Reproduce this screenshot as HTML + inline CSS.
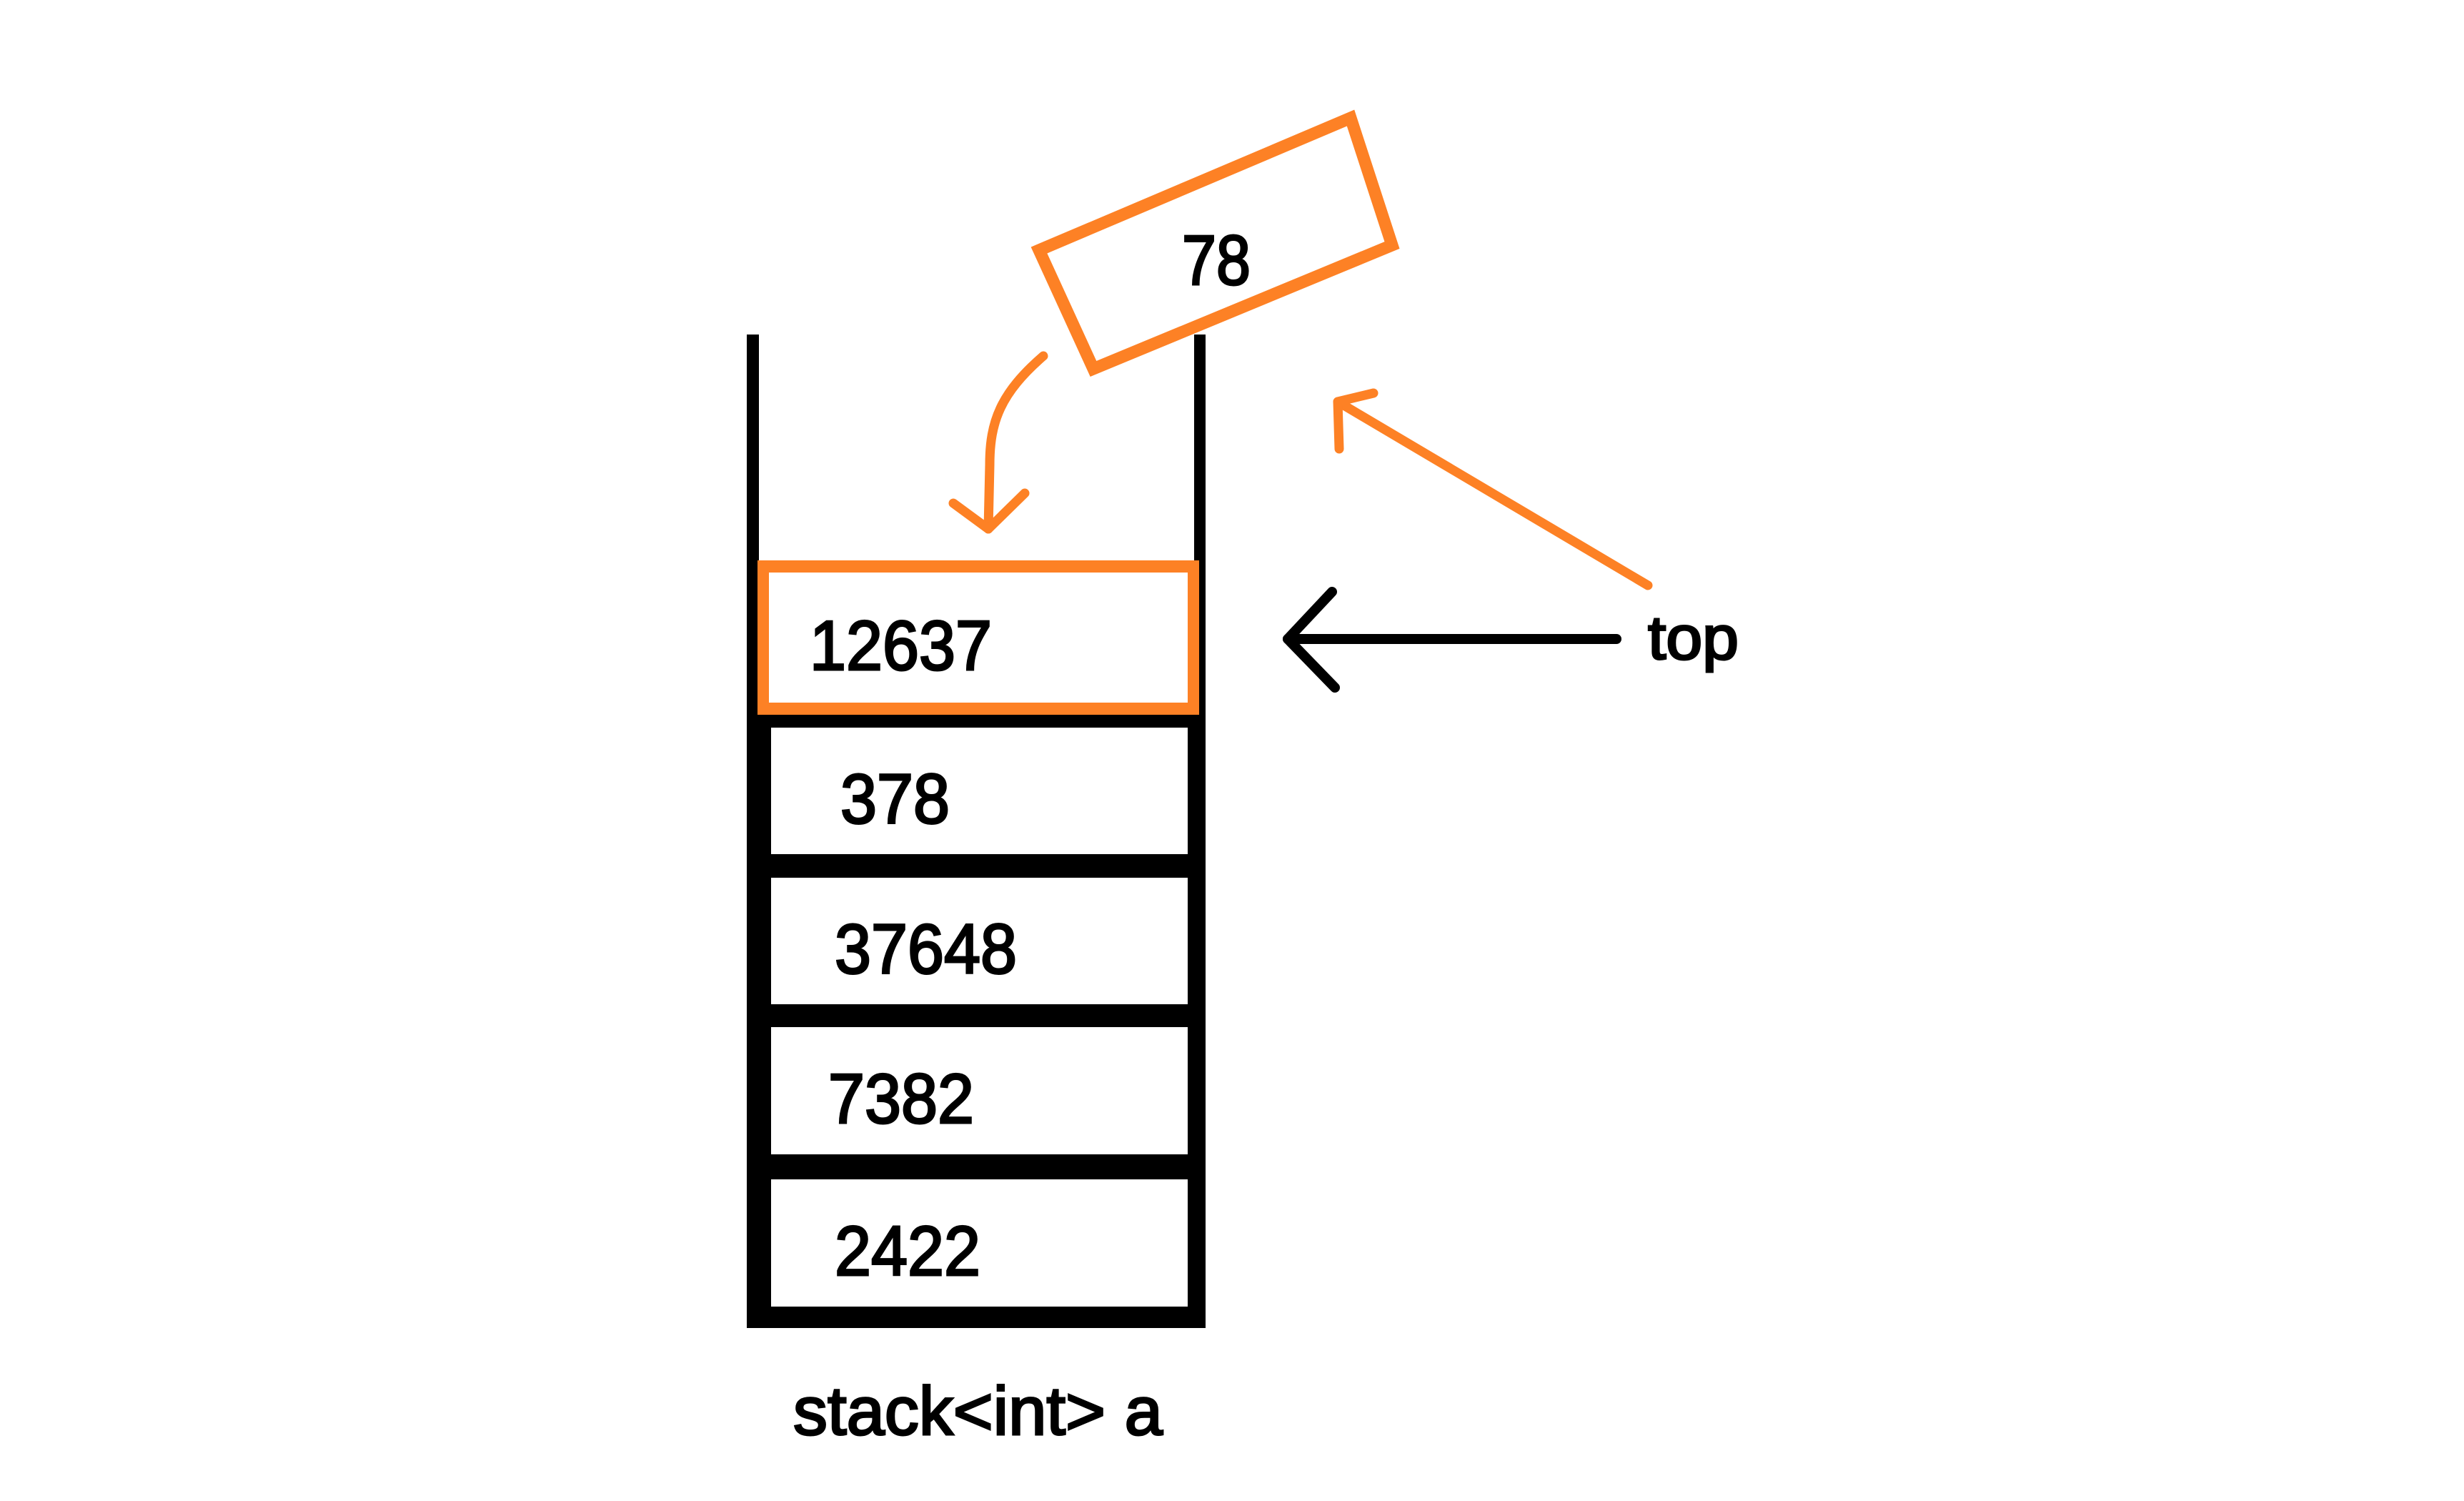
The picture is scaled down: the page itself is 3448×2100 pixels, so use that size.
<!DOCTYPE html>
<html>
<head>
<meta charset="utf-8">
<style>
html,body{margin:0;padding:0;background:#fff;}
svg{display:block;}
text{font-family:"Liberation Sans",sans-serif;fill:#000;stroke:#000;stroke-width:3;}
</style>
</head>
<body>
<svg id="diagram" width="3448" height="2100" viewBox="0 0 3448 2100" xmlns="http://www.w3.org/2000/svg">
  <!-- stack walls -->
  <rect x="1045" y="468" width="17" height="1390" fill="#000"/>
  <rect x="1671" y="468" width="16" height="1390" fill="#000"/>
  <g id="cells"></g>

  <!-- pushed element 78 -->
  <g>
    <polygon points="1454,350 1890,165 1948,343 1530,516" fill="none" stroke="#fd8125" stroke-width="17" stroke-linejoin="miter"/>
    <text x="1654" y="398" font-size="98" textLength="96" lengthAdjust="spacingAndGlyphs">78</text>
  </g>

  <!-- curved push arrow -->
  <g fill="none" stroke="#fd8125" stroke-width="13" stroke-linecap="round" stroke-linejoin="round">
    <path d="M1460,498 C1400,550 1385,590 1385,650 L1383,740"/>
    <path d="M1334,704 L1383,740 L1434,690"/>
  </g>

  <!-- orange pointer line toward new top -->
  <g fill="none" stroke="#fd8125" stroke-width="13" stroke-linecap="round" stroke-linejoin="round">
    <path d="M2306,819 L1872,562"/>
    <path d="M1922,550 L1872,562 L1874,628"/>
  </g>

  <!-- black top arrow -->
  <g fill="none" stroke="#000" stroke-width="14" stroke-linecap="round" stroke-linejoin="round">
    <path d="M2262,894 L1802,894"/>
    <path d="M1864,828 L1802,894 L1868,962"/>
  </g>
  <text x="2306" y="922" font-size="86" textLength="127" lengthAdjust="spacingAndGlyphs">top</text>

  <text x="1110" y="2007" font-size="96" textLength="517" lengthAdjust="spacingAndGlyphs">stack&lt;int&gt; a</text>
</svg>
<script>
const stackValues = ["12637", "378", "37648", "7382", "2422"];
const NS = "http://www.w3.org/2000/svg";
const g = document.getElementById("cells");
// layout (not data)
const rowTop = [784, 1018, 1228, 1437, 1650];
const rowBottom = [1000, 1195, 1405, 1615, 1828];
const textX = [1133, 1176, 1168, 1159, 1168];
function mk(tag, attrs) {
  const e = document.createElementNS(NS, tag);
  for (const k in attrs) e.setAttribute(k, attrs[k]);
  return e;
}
// lower black frame
const frame = mk("rect", {x: 1045, y: 1000, width: 642, height: 858, fill: "#000"});


g.appendChild(frame);
stackValues.forEach((v, i) => {
  let cell;
  if (i === 0) {
    cell = mk("rect", {x: 1060, y: 784, width: 618, height: 216, fill: "#fd8125"});
    g.appendChild(cell);
    const inner = mk("rect", {x: 1076, y: 801, width: 586, height: 182, fill: "#fff"});
    
    
    g.appendChild(inner);
  } else {
    cell = mk("rect", {x: 1079, y: rowTop[i], width: 583, height: rowBottom[i] - rowTop[i], fill: "#fff"});
    g.appendChild(cell);
  }
  
  
  const t = mk("text", {x: textX[i], y: (rowTop[i] + rowBottom[i]) / 2 + 45, "font-size": 98, textLength: v.length * 51, lengthAdjust: "spacingAndGlyphs"});
  t.textContent = v;
  
  
  g.appendChild(t);
});
</script>
</body>
</html>
